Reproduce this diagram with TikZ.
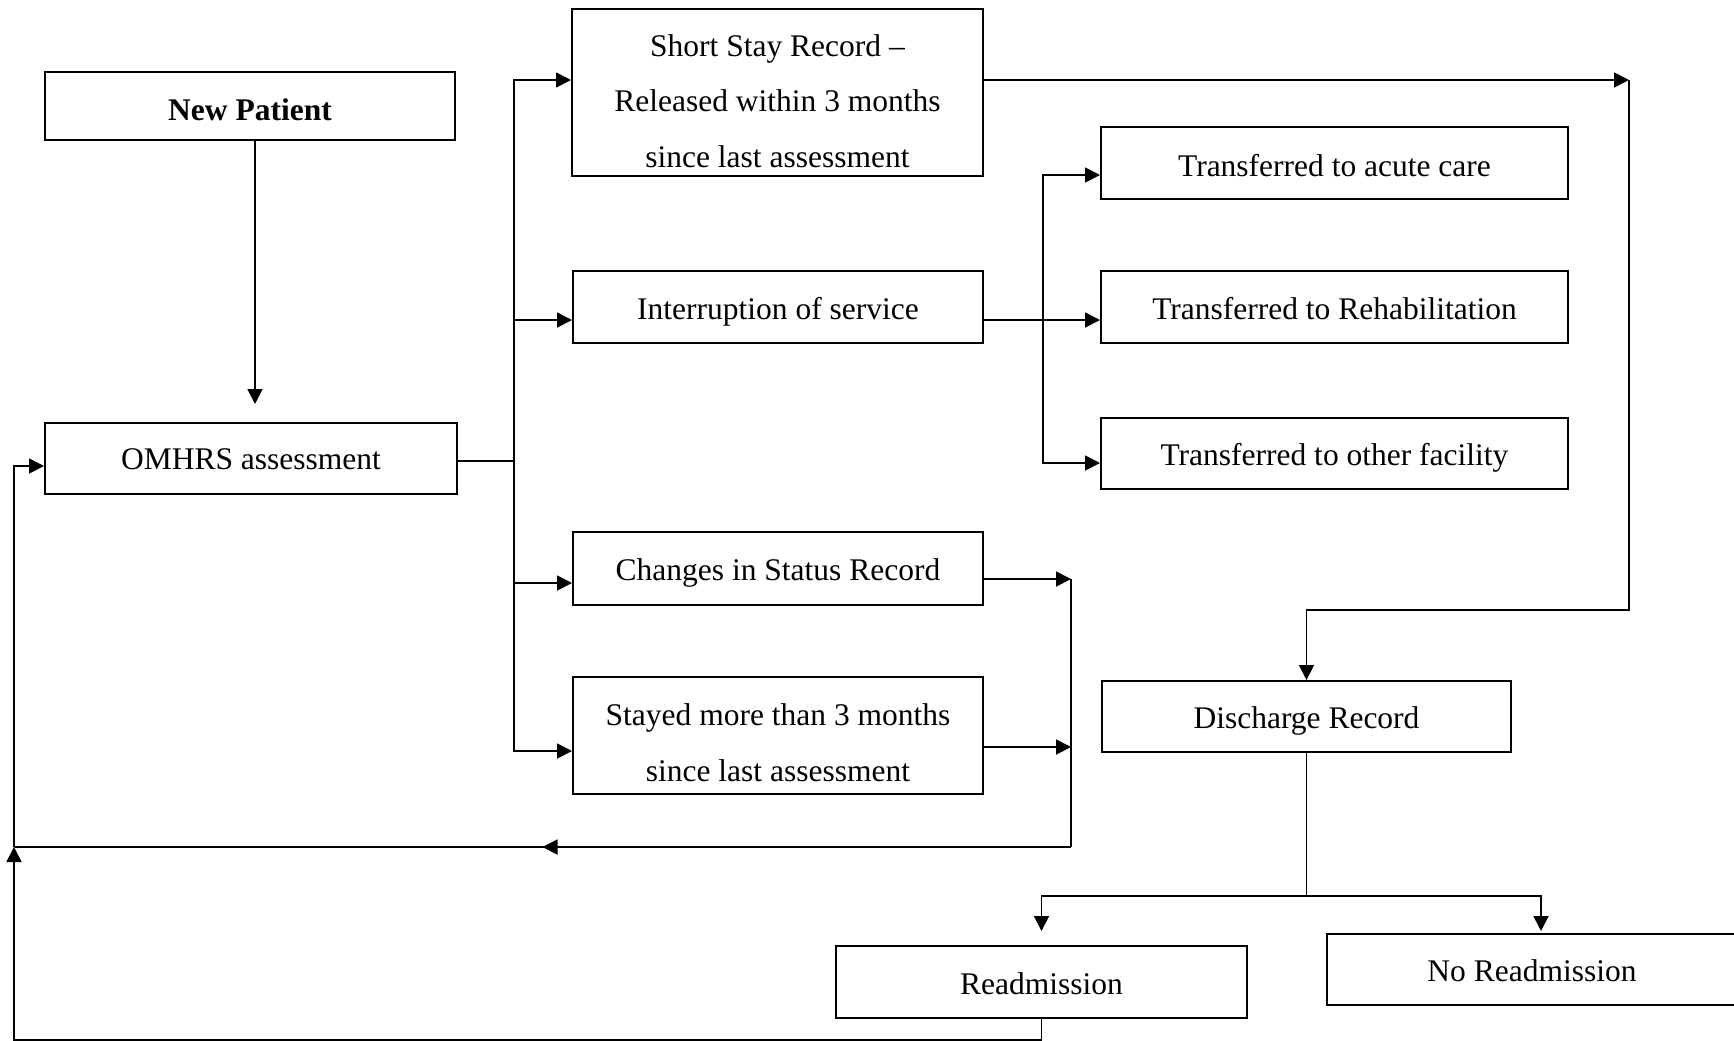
\documentclass[tikz,border=0pt]{standalone}
\usepackage{fontspec}
\setmainfont{Liberation Serif}
\usetikzlibrary{arrows.meta,decorations.markings}
\begin{document}
\begin{tikzpicture}[x=0.5pt,y=-0.5pt,
  box/.style={draw,line width=1pt,inner sep=0pt,minimum width=205pt,minimum height=36pt,
     font=\fontsize{15.75}{27.75}\selectfont,text height=12pt,text depth=0pt,align=center},
  arr/.style={line width=0.9pt,-{Triangle[length=7.5pt,width=7.5pt]}},
  ln/.style={line width=0.9pt},
  midarr/.style={line width=0.9pt,postaction={decorate},
     decoration={markings,mark=at position 0.5 with {\arrow{Triangle[length=7.5pt,width=7.5pt]}}}}]
\useasboundingbox (0,0) rectangle (1734,1040);

% boxes
\node[box,minimum width=205pt,minimum height=34pt,text height=14pt,
      font=\fontsize{15.75}{27.75}\selectfont\bfseries] (np) at (250,106) {New Patient};
\node[box,minimum width=206pt,minimum height=35.5pt,text height=11pt] (om) at (251,458.5) {OMHRS assessment};
\node[box,minimum width=205.5pt,minimum height=83.5pt,text height=74.5pt,text depth=0pt] (ss) at (777.5,92.5)
  {Short Stay Record –\\Released within 3 months\\since last assessment};
\node[box,minimum height=36pt] (intr) at (778,307) {Interruption of service};
\node[box,minimum height=36.5pt] (chg) at (778,568.5) {Changes in Status Record};
\node[box,minimum height=58.5pt,text height=45.5pt,text depth=0pt] (stay) at (778,735.5)
  {Stayed more than 3 months\\since last assessment};
\node[box,minimum width=233.5pt,minimum height=36pt,text height=13pt] (acute) at (1334.5,163) {Transferred to acute care};
\node[box,minimum width=233.5pt,minimum height=36pt] (rehab) at (1334.5,307) {Transferred to Rehabilitation};
\node[box,minimum width=233.5pt,minimum height=35.5pt] (other) at (1334.5,453.5) {Transferred to other facility};
\node[box,minimum width=204.5pt,minimum height=35.5pt] (dis) at (1306.5,716.5) {Discharge Record};
\node[box,minimum width=205.5pt,minimum height=36pt] (readm) at (1041.5,982) {Readmission};
\node[box,minimum width=205pt,minimum height=35.5pt] (noreadm) at (1532,969.5) {No Readmission};

% new patient -> assessment
\draw[arr] ([xshift=2.5pt]np.south) -- ++(0,263);

% assessment -> branches
\draw[ln] ([yshift=-1.25pt]om.east) -- ++(56,0) coordinate (bj);
\draw[arr] (bj) |- ([yshift=6.25pt]ss.west);
\draw[arr] (bj) |- ([yshift=-6.5pt]intr.west);
\draw[arr] (bj) |- ([yshift=-7.25pt]chg.west);
\draw[arr] (bj) |- ([yshift=-7.75pt]stay.west);

% short stay -> discharge
\draw[arr] ([yshift=6.25pt]ss.east) -- ++(645,0) coordinate (sr);
\draw[arr] (sr) -- ++(0,530) -| (dis.north);

% interruption -> transfers
\draw[arr] ([yshift=-6.5pt]intr.east) -- ++(59,0) coordinate (tj) -- ([yshift=-6.5pt]rehab.west);
\draw[arr] (tj) |- ([yshift=-6pt]acute.west);
\draw[arr] (tj) |- ([yshift=-4.75pt]other.west);

% changes / stayed -> back to assessment
\draw[arr] ([yshift=-5.25pt]chg.east) -- ++(87,0) coordinate (cj);
\draw[arr] ([yshift=-5.75pt]stay.east) -- ++(87,0);
\draw[ln] (cj) -- ++(0,268) coordinate (rj);
\coordinate (lj) at (14,847);
\draw[midarr] (rj) -- (lj);
\draw[arr] (lj) |- ([yshift=-3.75pt]om.west);

% discharge -> readmission / no readmission
\draw[ln] (dis.south) -- ++(0,143) coordinate (dj);
\draw[arr] (dj) -| ([yshift=7pt]readm.north);
\draw[arr] (dj) -| ([xshift=4.5pt,yshift=1pt]noreadm.north);

% readmission -> loop back
\draw[arr] (readm.south) -- ++(0,21) -| (lj);
\end{tikzpicture}
\end{document}
